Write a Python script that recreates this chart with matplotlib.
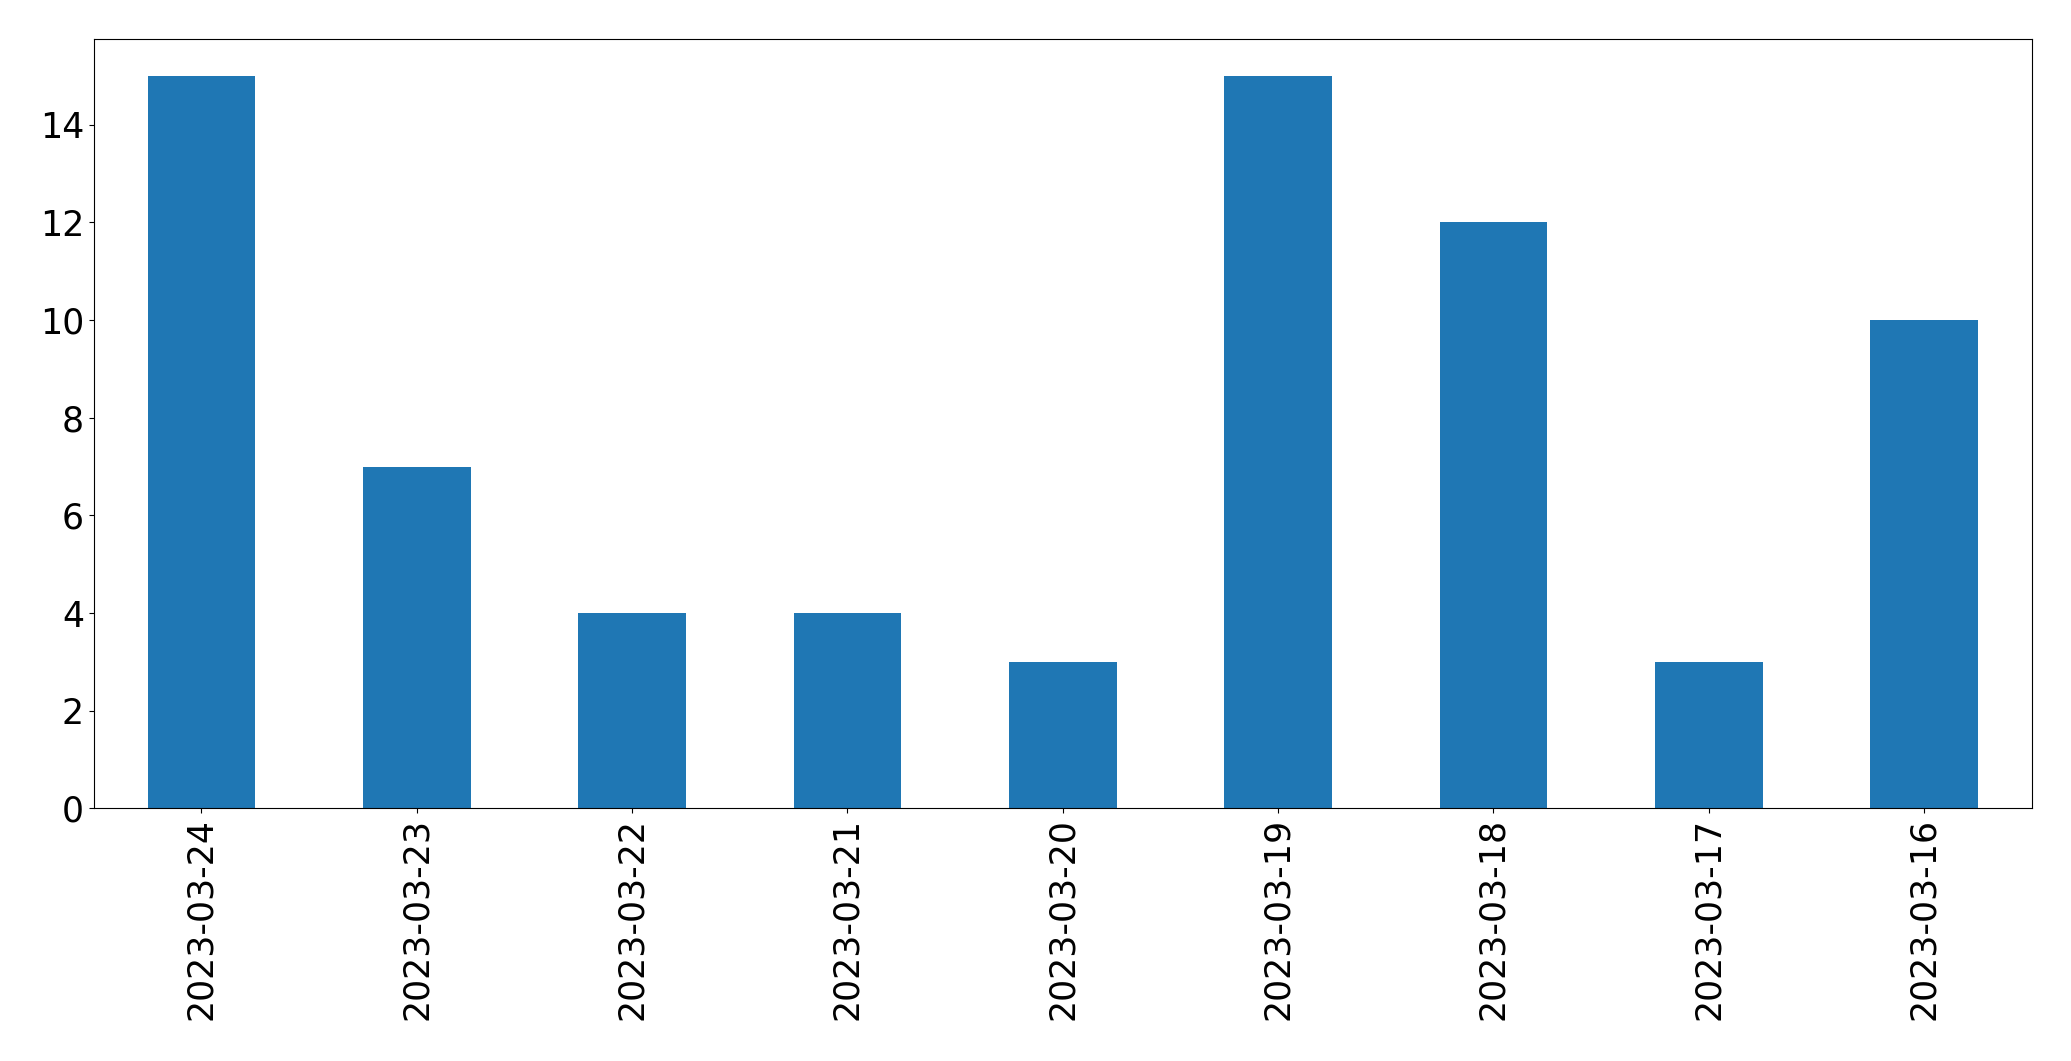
import matplotlib
matplotlib.use("Agg")
import matplotlib.pyplot as plt
import numpy as np

dates = ["2023-03-24", "2023-03-23", "2023-03-22", "2023-03-21", "2023-03-20",
         "2023-03-19", "2023-03-18", "2023-03-17", "2023-03-16"]
counts = [15, 7, 4, 4, 3, 15, 12, 3, 10]

fig = plt.figure(figsize=(20.71, 10.61), dpi=100)
ax = fig.add_axes([0.0453, 0.238, 0.9357, 0.725])

x = np.arange(len(dates))
ax.bar(x, counts, width=0.5, color="#1f77b4")
ax.set_xlim(-0.5, len(dates) - 0.5)
ax.set_ylim(0, max(counts) * 1.05)
ax.set_xticks(x)
ax.set_xticklabels(dates, rotation=90)
ax.tick_params(labelsize=25)

fig.savefig("out.png", dpi=100)
